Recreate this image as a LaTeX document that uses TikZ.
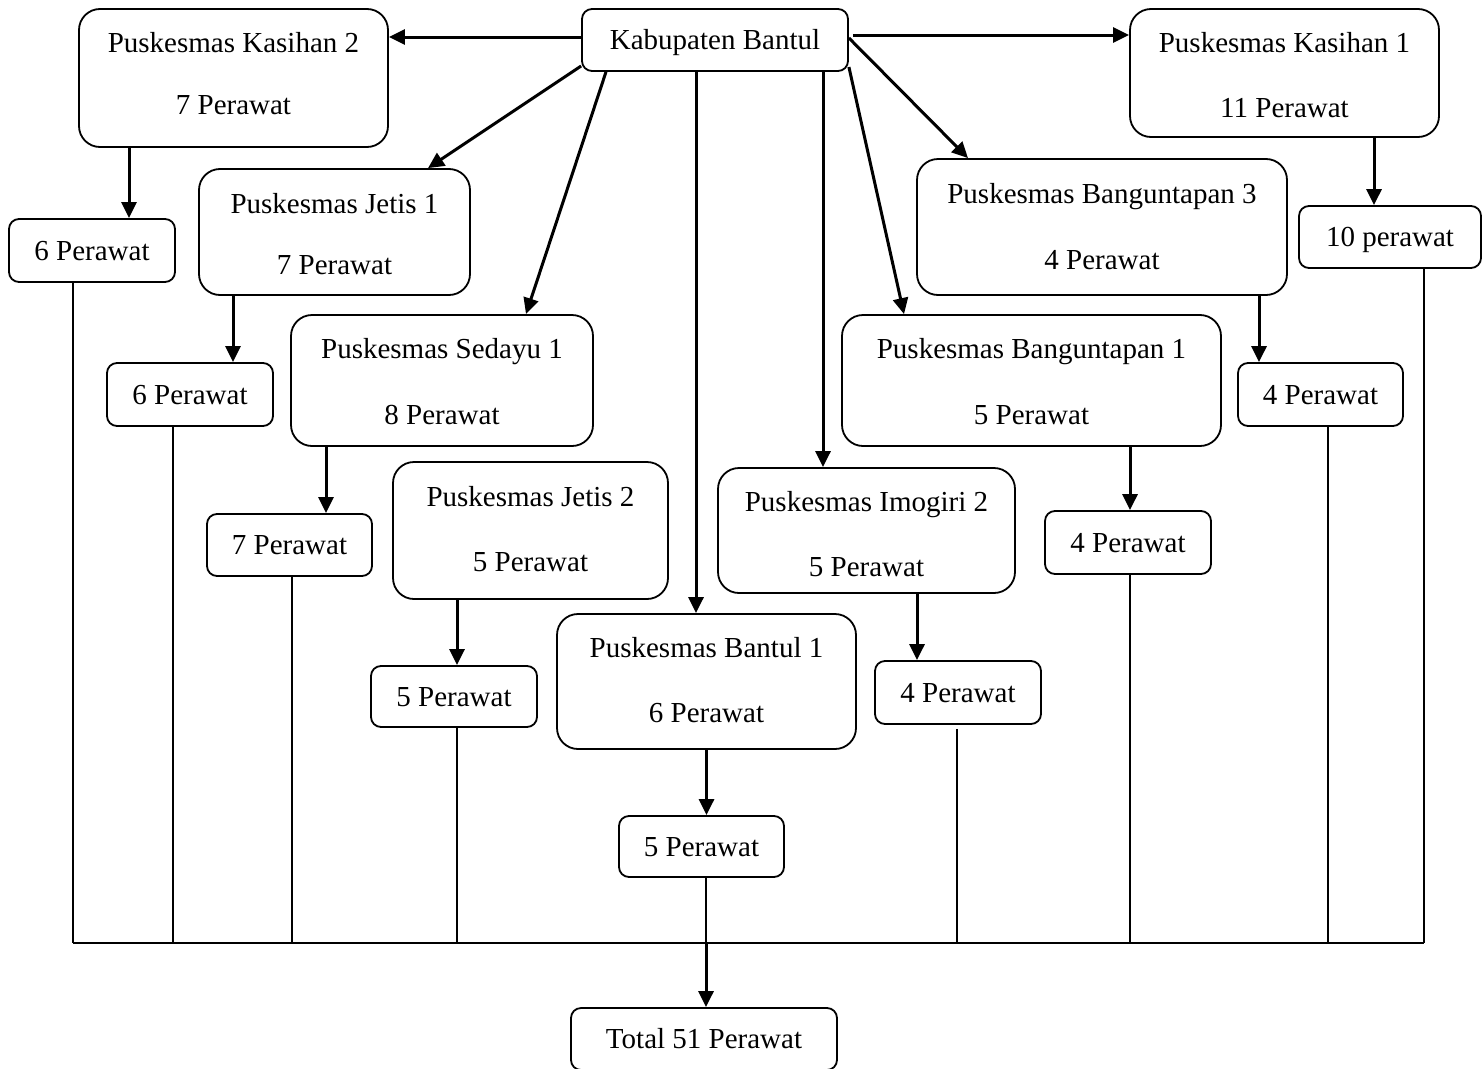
\documentclass[tikz,border=0pt]{standalone}
\usepackage{fontspec}
\setmainfont{Liberation Serif}
\usetikzlibrary{arrows.meta}
\begin{document}
\begin{tikzpicture}[x=1pt,y=-1pt,
  box/.style={draw=black, line width=1.8pt, fill=white, inner sep=0pt, align=center,
    font={\fontsize{29}{64}\selectfont}, text depth=0pt},
  bigbox/.style={box, rounded corners=21pt},
  smallbox/.style={box, rounded corners=10pt, text height=19.5pt},
  twolines/.style 2 args={text height=#1pt, font={\fontsize{29}{#2}\selectfont}},
  arr/.style={draw=black, line width=3pt, -{Triangle[length=16pt,width=15pt]}},
  plain/.style={draw=black, line width=1.5pt}]
\useasboundingbox[fill=white] (0,0) rectangle (1482,1068);

% top level
\node[smallbox, minimum width=266pt, minimum height=62pt] (kab) at (715,40) {Kabupaten Bantul};
\node[bigbox, twolines={73.4}{62}, minimum width=309pt, minimum height=138pt] (k2) at (233.5,78) {Puskesmas Kasihan 2\\7 Perawat};
\node[bigbox, twolines={89.4}{65}, minimum width=309pt, minimum height=128pt] (k1) at (1284.5,73) {Puskesmas Kasihan 1\\11 Perawat};
\node[bigbox, twolines={85.4}{61}, minimum width=271pt, minimum height=126pt] (j1) at (334.5,232) {Puskesmas Jetis 1\\7 Perawat};
\node[bigbox, twolines={85.4}{66}, minimum width=370pt, minimum height=136pt] (b3) at (1102,227) {Puskesmas Banguntapan 3\\4 Perawat};
\node[bigbox, twolines={88.4}{66}, minimum width=302pt, minimum height=131pt] (s1) at (442,380.5) {Puskesmas Sedayu 1\\8 Perawat};
\node[bigbox, twolines={88.4}{66}, minimum width=379pt, minimum height=131pt] (b1) at (1031.5,380.5) {Puskesmas Banguntapan 1\\5 Perawat};
\node[bigbox, twolines={82.4}{65}, minimum width=275pt, minimum height=137pt] (j2) at (530.5,530.5) {Puskesmas Jetis 2\\5 Perawat};
\node[bigbox, twolines={92.4}{65}, minimum width=297pt, minimum height=125pt] (im2) at (866.5,530.5) {Puskesmas Imogiri 2\\5 Perawat};
\node[bigbox, twolines={82.4}{65}, minimum width=299pt, minimum height=135pt] (bt1) at (706.5,681.5) {Puskesmas Bantul 1\\6 Perawat};

% child boxes
\node[smallbox, minimum width=166pt, minimum height=63pt] (p6a) at (92,250.5) {6 Perawat};
\node[smallbox, minimum width=182pt, minimum height=62pt] (p10) at (1390,237) {10 perawat};
\node[smallbox, minimum width=166pt, minimum height=63pt] (p6b) at (190,394.5) {6 Perawat};
\node[smallbox, minimum width=165pt, minimum height=63pt] (p4a) at (1320.5,394.5) {4 Perawat};
\node[smallbox, minimum width=165pt, minimum height=62pt] (p7) at (289.5,545) {7 Perawat};
\node[smallbox, minimum width=166pt, minimum height=63pt] (p4b) at (1128,542.5) {4 Perawat};
\node[smallbox, minimum width=166pt, minimum height=61pt] (p5a) at (454,696.5) {5 Perawat};
\node[smallbox, minimum width=166pt, minimum height=63pt] (p4c) at (958,692.5) {4 Perawat};
\node[smallbox, minimum width=165pt, minimum height=61pt] (p5b) at (701.5,846.5) {5 Perawat};
\node[smallbox, minimum width=266pt, minimum height=62pt] (tot) at (704,1039) {Total 51 Perawat};

% arrows from Kabupaten Bantul
\draw[arr] ([yshift=3pt]kab.west) -- ([yshift=3pt]kab.west -| k2.east);
\draw[arr] ([yshift=5pt,xshift=4pt]kab.east) -- ([yshift=5pt]kab.east -| k1.west);
\draw[arr] ([yshift=-26pt]kab.west) -- ([xshift=93.5pt]j1.north);
\draw[arr] ([xshift=-109pt]kab.south) -- ([xshift=84pt]s1.north);
\draw[arr] ([xshift=-19pt]kab.south) -- ([xshift=-19pt]kab.south |- bt1.north);
\draw[arr] ([xshift=108pt]kab.south) -- ([xshift=108pt]kab.south |- im2.north);
\draw[arr] ([yshift=-27pt]kab.east) -- ([xshift=-127.5pt]b1.north);
\draw[arr] ([yshift=2pt]kab.east) -- ([xshift=-134pt]b3.north);

% arrows to child boxes
\draw[arr] ([xshift=-104.5pt]k2.south) -- ([xshift=-104.5pt]k2.south |- p6a.north);
\draw[arr] ([xshift=-101.5pt]j1.south) -- ([xshift=-101.5pt]j1.south |- p6b.north);
\draw[arr] ([xshift=-116pt]s1.south) -- ([xshift=-116pt]s1.south |- p7.north);
\draw[arr] ([xshift=-73.5pt]j2.south) -- ([xshift=-73.5pt]j2.south |- p5a.north);
\draw[arr] (bt1.south) -- (bt1.south |- p5b.north);
\draw[arr] ([xshift=50.5pt]im2.south) -- ([xshift=50.5pt]im2.south |- p4c.north);
\draw[arr] ([xshift=98.5pt]b1.south) -- ([xshift=98.5pt]b1.south |- p4b.north);
\draw[arr] ([xshift=157pt]b3.south) -- ([xshift=157pt]b3.south |- p4a.north);
\draw[arr] ([xshift=89.5pt]k1.south) -- ([xshift=89.5pt]k1.south |- p10.north);

% collector lines
\coordinate (busL) at (73,943);
\coordinate (busR) at (1424,943);
\draw[plain] ([xshift=-19pt]p6a.south) -- ([xshift=-19pt]p6a.south |- busL);
\draw[plain] ([xshift=-17pt]p6b.south) -- ([xshift=-17pt]p6b.south |- busL);
\draw[plain] ([xshift=2.5pt]p7.south) -- ([xshift=2.5pt]p7.south |- busL);
\draw[plain] ([xshift=3pt]p5a.south) -- ([xshift=3pt]p5a.south |- busL);
\draw[plain] ([xshift=4.5pt]p5b.south) -- ([xshift=4.5pt]p5b.south |- busL);
\draw[plain] ([xshift=-1pt,yshift=-4pt]p4c.south) -- ([xshift=-1pt]p4c.south |- busL);
\draw[plain] ([xshift=2pt]p4b.south) -- ([xshift=2pt]p4b.south |- busL);
\draw[plain] ([xshift=7.5pt]p4a.south) -- ([xshift=7.5pt]p4a.south |- busL);
\draw[plain] ([xshift=34pt]p10.south) -- ([xshift=34pt]p10.south |- busL);
\draw[plain] (busL) -- (busR);
\draw[arr] ([xshift=4.5pt]p5b.south |- busL) -- ([xshift=4.5pt]p5b.south |- tot.north);
\end{tikzpicture}
\end{document}
